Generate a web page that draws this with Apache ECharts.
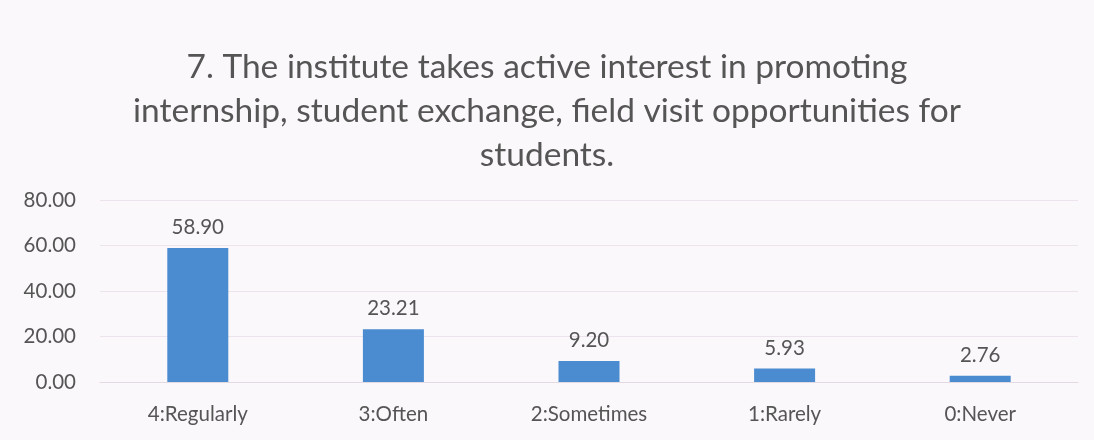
<!DOCTYPE html>
<html><head><meta charset="utf-8">
<script src="https://cdn.jsdelivr.net/npm/echarts@6/dist/echarts.min.js"></script>
<style>html,body{margin:0;padding:0;background:#fbf8fb;}#c{width:1094px;height:440px;}</style>
</head><body><div id="c"></div>
<script>
const titleText = "7. The institute takes active interest in promoting\ninternship, student exchange, field visit opportunities for\nstudents.";
const categories = ["4:Regularly", "3:Often", "2:Sometimes", "1:Rarely", "0:Never"];
const values = [58.90, 23.21, 9.20, 5.93, 2.76];
const yTicks = [0, 20, 40, 60, 80];

const chart = echarts.init(document.getElementById('c'));
const txt = '#555555';
chart.setOption({
  backgroundColor: '#fbf8fb',
  title: {
    text: titleText,
    left: 'center', top: 40,
    textStyle: { fontFamily: 'Lato', fontSize: 33.5, fontWeight: 'normal', color: txt, lineHeight: 44, align: 'center' }
  },
  grid: { left: 100, right: 16, top: 200, bottom: 58, containLabel: false },
  xAxis: {
    type: 'category', data: categories,
    axisLine: { show: true, lineStyle: { color: '#e3d9e3', width: 1 } },
    axisTick: { show: false },
    axisLabel: { fontFamily: 'Lato', fontSize: 20.5, color: txt, margin: 22 }
  },
  yAxis: {
    type: 'value', min: yTicks[0], max: yTicks[yTicks.length - 1], interval: 20,
    axisLine: { show: false }, axisTick: { show: false },
    splitLine: { lineStyle: { color: '#ece3ec', width: 1 } },
    axisLabel: { fontFamily: 'Lato', fontSize: 20.5, color: txt, margin: 24, formatter: v => v.toFixed(2) }
  },
  series: [{
    type: 'bar', data: values, barWidth: 61,
    itemStyle: { color: '#4b8bd0' },
    label: { show: true, position: 'top', distance: 10, fontFamily: 'Lato', fontSize: 20.5, color: txt, formatter: p => p.value.toFixed(2) }
  }],
  animation: false
});
</script></body></html>
